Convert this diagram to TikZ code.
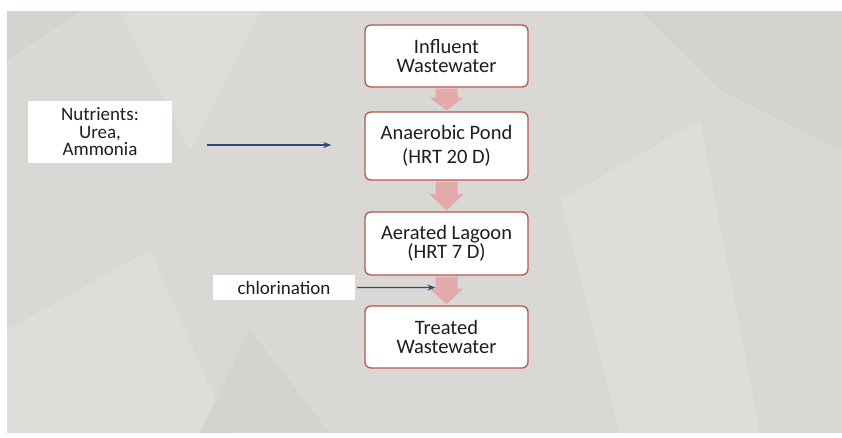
\documentclass[tikz,border=0pt]{standalone}
\usepackage{fontspec}
\setmainfont{Carlito}
\usetikzlibrary{calc,arrows.meta}
\definecolor{paper}{HTML}{D9D8D5}
\definecolor{paperhi}{HTML}{DEDDDA}
\definecolor{paperlo}{HTML}{D4D3D0}
\definecolor{rim}{HTML}{B85450}
\definecolor{flow}{HTML}{E2AAAA}
\definecolor{feed}{HTML}{2E4C7C}
\definecolor{ink}{HTML}{1E1E1E}
\tikzset{
  stage/.style={draw=rim, line width=1.3pt, fill=white, rounded corners=6pt,
    minimum width=163pt, align=center, text=ink, font=\fontsize{20.5}{19.5}\selectfont},
  tag/.style={fill=white, align=center, text=ink, font=\fontsize{19}{17.5}\selectfont},
  feedline/.style={draw=feed, line width=1.3pt, -{Stealth[length=8pt,width=6pt]}},
  flowarrow/.style={fill=flow, draw=none},
}
\begin{document}
\begin{tikzpicture}[x=1pt,y=-1pt]
  \useasboundingbox (0,0) rectangle (842,437);
  \fill[white] (0,0) rectangle (842,437);
  \fill[paper] (7,11) rectangle (842,433);
  % faint creases of the paper
  \fill[paperhi] (120,11) -- (260,11) -- (190,150) -- cycle;
  \fill[paperhi] (560,200) -- (700,120) -- (760,433) -- (620,433) -- cycle;
  \fill[paperhi] (7,330) -- (150,250) -- (230,433) -- (7,433) -- cycle;
  \fill[paperlo] (640,11) -- (842,11) -- (842,150) -- (720,90) -- cycle;
  \fill[paperlo] (250,330) -- (330,433) -- (200,433) -- cycle;
  \fill[paperlo] (7,60) -- (80,11) -- (7,11) -- cycle;

  \node[stage, minimum height=62pt] (influent) at (446.5,56) {Influent\\Wastewater};
  \node[stage, minimum height=68pt, font=\fontsize{20.5}{24}\selectfont] (anaerobic) at (446.5,146) {Anaerobic Pond\\(HRT 20 D)};
  \node[stage, minimum height=63pt] (aerated) at (446.5,243.5) {Aerated Lagoon\\(HRT 7 D)};
  \node[stage, minimum height=62pt] (treated) at (446.5,337) {Treated\\Wastewater};

  % block arrows between stages
  \foreach \a/\b in {influent/anaerobic, anaerobic/aerated, aerated/treated}{
    \fill[flowarrow] ($(\a.south)+(-11,1)$) -- ($(\a.south)+(11,1)$)
      -- ($(\a.south)!0.5!(\b.north)+(11,-2)$) -- ($(\a.south)!0.5!(\b.north)+(17,-2)$)
      -- ($(\b.north)+(0,-1)$)
      -- ($(\a.south)!0.5!(\b.north)+(-17,-2)$) -- ($(\a.south)!0.5!(\b.north)+(-11,-2)$)
      -- cycle;
  }

  \node[tag, minimum width=144pt, minimum height=62pt] (nutrients) at (100,132) {Nutrients:\\Urea,\\Ammonia};
  \node[tag, minimum width=142pt, minimum height=25pt] (chlor) at (284,287.5) {chlorination};

  \coordinate (dose) at ($(aerated.south)!0.40!(treated.north)+(-11,0)$);
  \draw[feedline, shorten <=35pt, shorten >=33pt] ($(nutrients.east)+(0,13)$) -- ($(anaerobic.west)+(0,-1)$);
  \draw[feedline, shorten <=2pt] (chlor.east) -- (dose);
\end{tikzpicture}
\end{document}
